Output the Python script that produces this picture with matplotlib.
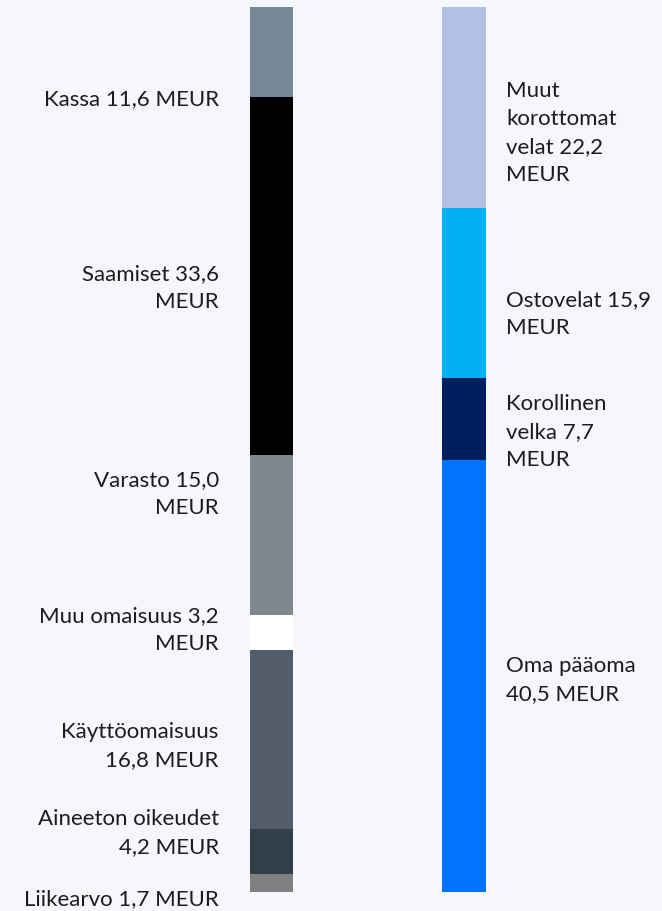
import matplotlib.pyplot as plt
import numpy as np

# vastaavaa (vasen pylväs), ylhäältä alas
assets = ["Kassa", "Saamiset", "Varasto", "Muu omaisuus",
          "Käyttöomaisuus", "Aineeton oikeudet", "Liikearvo"]
asset_vals = [11.6, 33.6, 15.0, 3.2, 16.8, 4.2, 1.7]
asset_labels = ["Kassa 11,6 MEUR", "Saamiset 33,6\nMEUR", "Varasto 15,0\nMEUR",
                "Muu omaisuus 3,2\nMEUR", "Käyttöomaisuus\n16,8 MEUR",
                "Aineeton oikeudet\n4,2 MEUR", "Liikearvo 1,7 MEUR"]
asset_colors = ["#778899", "#000000", "#7f888f", "#ffffff",
                "#525c6b", "#333f48", "#808080"]

# vastattavaa (oikea pylväs), ylhäältä alas
liabs = ["Muut korottomat velat", "Ostovelat", "Korollinen velka", "Oma pääoma"]
liab_vals = [22.2, 15.9, 7.7, 40.5]
liab_labels = ["Muut\nkorottomat\nvelat 22,2\nMEUR", "Ostovelat 15,9\nMEUR",
               "Korollinen\nvelka 7,7\nMEUR", "Oma pääoma\n40,5 MEUR"]
liab_colors = ["#b1c1e5", "#00b0f0", "#001f5f", "#0073ff"]

# tekstien siirto segmentin keskeltä
asset_shift = [-6.0, -1.1, 3.9, 0.2, -0.65, 1.7, -1.55]
liab_shift = [-4.1, -1.95, -1.25, -0.4]

bg = "#f5f7fc"
plt.rcParams['font.family'] = ['Lato', 'DejaVu Sans']

fig = plt.figure(figsize=(6.62, 9.11), dpi=100, facecolor=bg)
ax = fig.add_axes([0, 0.0212, 1, 0.9711])
ax.set_facecolor(bg)

w = 0.226
fs = 16
ls = 1.5


def stack(x, vals, colors, labels, shifts, left):
    top = sum(vals)
    for v, c, lab, s in zip(vals, colors, labels, shifts):
        bottom = top - v
        ax.bar(x, v, bottom=bottom, width=w, color=c, linewidth=0)
        mid = bottom + v / 2 + s
        if left:
            ax.text(x - w / 2 - 0.16, mid, lab, ha="right", va="center",
                    fontsize=fs, color="#1c1c1c", linespacing=ls, clip_on=False)
        else:
            ax.text(x + w / 2 + 0.105, mid, lab, ha="left", va="center",
                    fontsize=fs, color="#1c1c1c", linespacing=ls, clip_on=False)
        top = bottom


stack(0, asset_vals, asset_colors, asset_labels, asset_shift, True)
stack(1, liab_vals, liab_colors, liab_labels, liab_shift, False)

ax.set_xlim(-1.410, 2.029)
ax.set_ylim(0, 82.95)
ax.axis("off")

fig.savefig("out.png", dpi=100, facecolor=bg)
